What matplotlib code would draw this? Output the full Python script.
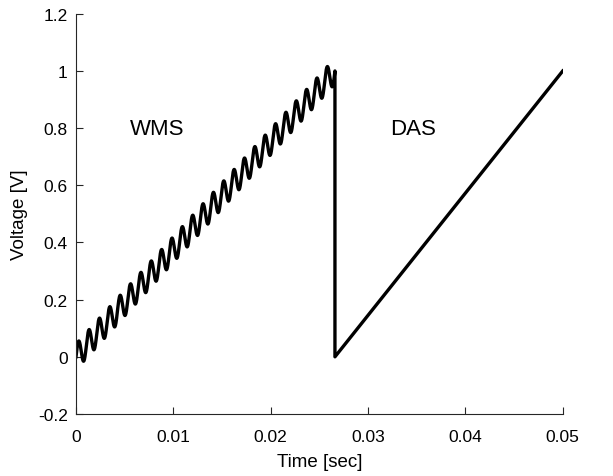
import numpy as np
from matplotlib import pyplot as plt

# WMS segment: ramp with sine modulation
wms_t = [0.0, 0.0266]
wms_v = [0.0, 1.0]
mod_cycles = 25
mod_amp = 0.045

# DAS segment: plain ramp
das_t = [0.0266, 0.05]
das_v = [0.0, 1.0]

xticks = [0, 0.01, 0.02, 0.03, 0.04, 0.05]
xticklabels = ['0', '0.01', '0.02', '0.03', '0.04', '0.05']
yticks = [-0.2, 0, 0.2, 0.4, 0.6, 0.8, 1, 1.2]
yticklabels = ['-0.2', '0', '0.2', '0.4', '0.6', '0.8', '1', '1.2']

plt.rcParams['font.family'] = ['Liberation Sans', 'DejaVu Sans']

t1 = np.linspace(wms_t[0], wms_t[1], 2000)
frac = (t1 - wms_t[0]) / (wms_t[1] - wms_t[0])
y1 = np.interp(t1, wms_t, wms_v) + mod_amp * np.sin(2 * np.pi * mod_cycles * frac)

t = np.concatenate([t1, das_t])
y = np.concatenate([y1, das_v])

fig = plt.figure(figsize=(6.13, 4.77), dpi=100)
ax = fig.add_axes([0.124, 0.130, 0.794, 0.839])
ax.plot(t, y, color='black', linewidth=2.4)

ax.text(0.0083, 0.8, 'WMS', fontsize=16, ha='center', va='center')
ax.text(0.0346, 0.8, 'DAS', fontsize=16, ha='center', va='center')

ax.set_xlim(0, 0.05)
ax.set_ylim(-0.2, 1.2)
ax.set_xticks(xticks)
ax.set_xticklabels(xticklabels)
ax.set_yticks(yticks)
ax.set_yticklabels(yticklabels)
ax.set_xlabel('Time [sec]', fontsize=13.5, labelpad=6)
ax.set_ylabel('Voltage [V]', fontsize=13.5, labelpad=7)

for side in ['top', 'right']:
    ax.spines[side].set_visible(False)
for side in ['left', 'bottom']:
    ax.spines[side].set_color('#262626')
    ax.spines[side].set_linewidth(0.8)
ax.tick_params(direction='in', length=5, width=0.8, colors='#262626', labelsize=12.5,
               labelcolor='black', pad=6)
ax.tick_params(axis='x', pad=11)

fig.savefig('out.png', dpi=100)
